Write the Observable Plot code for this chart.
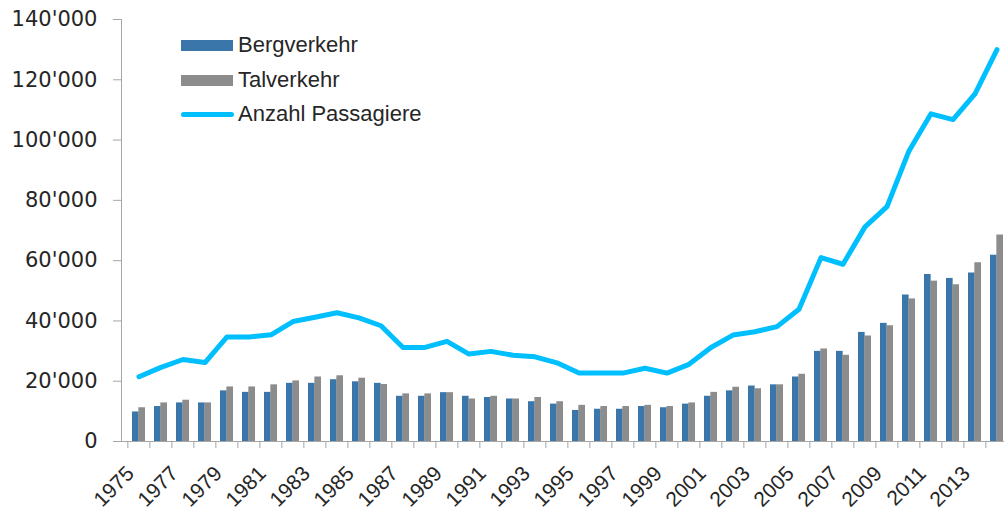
<!DOCTYPE html>
<html>
<head>
<meta charset="utf-8">
<script src="https://cdn.jsdelivr.net/npm/d3@7"></script>
<script src="https://cdn.jsdelivr.net/npm/@observablehq/plot@0.6"></script>
<style>
  html, body { margin: 0; padding: 0; background: #fff; width: 1004px; height: 512px; overflow: hidden; }
  #wrap { position: relative; width: 1004px; height: 512px; overflow: hidden; }
  #chart svg { display: block; max-width: none !important; width: 1020px !important; height: 512px !important; }
  .legend { position: absolute; left: 181px; top: 0; font-family: "Liberation Sans", Arial, sans-serif; font-size: 22px; color: #262626; }
  .item { position: absolute; left: 0; height: 26px; display: flex; align-items: center; white-space: nowrap; }
  .sw { width: 52px; height: 11px; margin-right: 5px; }
  .ln { width: 53px; height: 5px; border-radius: 2.5px; margin-right: 4px; }
</style>
</head>
<body>
<div id="wrap">
  <div id="chart"></div>
  <div class="legend">
    <div class="item" style="top:32px"><div class="sw" style="background:#3a76a9"></div><span>Bergverkehr</span></div>
    <div class="item" style="top:67px"><div class="sw" style="background:#8c8c8c"></div><span>Talverkehr</span></div>
    <div class="item" style="top:101px"><div class="ln" style="background:#00bfff"></div><span>Anzahl Passagiere</span></div>
  </div>
</div>
<script>
const years = [1975,1976,1977,1978,1979,1980,1981,1982,1983,1984,1985,1986,1987,1988,1989,1990,1991,1992,1993,1994,1995,1996,1997,1998,1999,2000,2001,2002,2003,2004,2005,2006,2007,2008,2009,2010,2011,2012,2013,2014];
const bergverkehr = [9800,11600,12800,12800,16800,16300,16300,19300,19300,20500,19800,19300,15000,
  15000,16200,15000,14600,14100,13200,12400,10300,10700,10700,11600,11200,12400,
  15000,16800,18400,18800,21400,29900,29900,36200,39200,48600,55400,54100,55900,61800];
const talverkehr = [11200,12800,13700,12800,18100,18100,18800,20100,21400,21800,21000,18900,15800,
  15800,16200,14100,15000,14100,14600,13200,12000,11600,11600,12000,11600,12800,
  16300,18000,17500,18800,22300,30700,28600,35000,38400,47300,53200,52000,59300,68500];
const passagiere = [21500,24600,27200,26200,34700,34700,35400,39800,41200,42700,41000,38400,31200,
  31200,33200,29000,29900,28600,28100,26100,22700,22700,22700,24300,22700,25600,
  31200,35300,36400,38100,43900,61000,58800,71200,77900,96400,108700,106800,115300,130000];
const yTicks = [0,20000,40000,60000,80000,100000,120000,140000];
const labelYears = [1975,1977,1979,1981,1983,1985,1987,1989,1991,1993,1995,1997,1999,2001,2003,2005,2007,2009,2011,2013];

const rows = years.map((y, i) => ({year: y, berg: bergverkehr[i], tal: talverkehr[i], pax: passagiere[i]}));

const W = 1020, H = 512, mL = 121, mR = 7, mT = 19, mB = 71;
const padIn = 0.43, padOut = 0.215;
const step = (W - mL - mR) / (years.length - padIn + 2 * padOut);
const half = step * (1 - padIn) / 2;
const fmt = v => d3.format(",")(v).replace(/,/g, "'");
const axisGrey = "#a6a6a6", txt = "#262626";

const chart = Plot.plot({
  width: W, height: H,
  marginLeft: mL, marginRight: mR, marginTop: mT, marginBottom: mB,
  style: {fontFamily: "'DejaVu Sans', sans-serif", fontSize: "21px", color: txt, background: "white", overflow: "visible", maxWidth: "none"},
  x: {type: "band", domain: years, paddingInner: padIn, paddingOuter: padOut, label: null},
  y: {domain: [0, 140000], label: null},
  marks: [
    Plot.barY(rows, {x: "year", y: "berg", fill: "#3a76a9", insetRight: half}),
    Plot.barY(rows, {x: "year", y: "tal", fill: "#8c8c8c", insetLeft: half}),
    Plot.frame({anchor: "left", stroke: axisGrey}),
    Plot.ruleY([0], {stroke: axisGrey, insetLeft: -8}),
    Plot.axisY({ticks: yTicks, tickSize: 8, tickPadding: 16, tickFormat: fmt, stroke: axisGrey, fill: txt, fontSize: 21, label: null}),
    Plot.axisX({ticks: years, tickSize: 7, tickFormat: () => "", dx: -step / 2, stroke: axisGrey, label: null}),
    Plot.axisX({ticks: labelYears, tickSize: 0, tickPadding: 28.6, tickRotate: -45, dx: -8.6, tickFormat: d => String(d), fill: txt, fontSize: 21, fontFamily: "'Liberation Sans', Arial, sans-serif", label: null}),
    Plot.line(rows, {x: "year", y: "pax", stroke: "#00bfff", strokeWidth: 5, strokeLinejoin: "round"})
  ]
});
document.getElementById("chart").appendChild(chart);
</script>
</body>
</html>
